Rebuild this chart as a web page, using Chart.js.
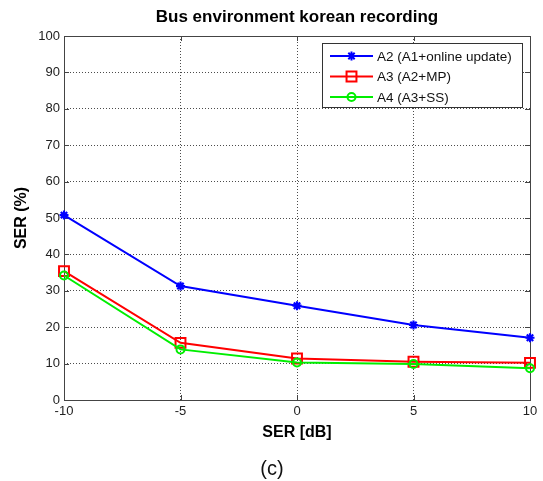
<!DOCTYPE html>
<html>
<head>
<meta charset="utf-8">
<script src="https://cdn.jsdelivr.net/npm/chart.js@4/dist/chart.umd.min.js"></script>
<style>
  body { margin: 0; background: #fff; }
  canvas { display: block; }
</style>
</head>
<body>
<canvas id="chart" width="543" height="481"></canvas>
<script>
const snrDb = [-10, -5, 0, 5, 10];
const serA2 = [50.8, 31.3, 25.9, 20.6, 17.1];
const serA3 = [35.4, 15.7, 11.4, 10.5, 10.2];
const serA4 = [34.2, 13.9, 10.3, 9.9, 8.7];
const seriesLabels = ['A2 (A1+online update)', 'A3 (A2+MP)', 'A4 (A3+SS)'];

const FONT = '"Liberation Sans", Arial, Helvetica, sans-serif';
const toPoints = (ys) => ys.map((y, i) => ({ x: snrDb[i], y }));

// plot box + inward ticks, like matlab's "box on"
const boxPlugin = {
    id: 'box',
    beforeDatasetsDraw(chart) {
        const { ctx, chartArea: a, scales } = chart;
        ctx.save();
        ctx.strokeStyle = '#444';
        ctx.lineWidth = 1;
        ctx.setLineDash([]);
        ctx.strokeRect(Math.round(a.left) + 0.5, Math.round(a.top) + 0.5,
            Math.round(a.right - a.left), Math.round(a.bottom - a.top));
        ctx.beginPath();
        scales.x.ticks.forEach((t) => {
            const px = Math.round(scales.x.getPixelForValue(t.value)) + 0.5;
            ctx.moveTo(px, a.bottom); ctx.lineTo(px, a.bottom - 5);
            ctx.moveTo(px, a.top); ctx.lineTo(px, a.top + 5);
        });
        scales.y.ticks.forEach((t) => {
            const py = Math.round(scales.y.getPixelForValue(t.value)) + 0.5;
            ctx.moveTo(a.left, py); ctx.lineTo(a.left + 5, py);
            ctx.moveTo(a.right, py); ctx.lineTo(a.right - 5, py);
        });
        ctx.stroke();
        ctx.restore();
    }
};

// legend in the top right corner of the axes
const legendPlugin = {
    id: 'boxLegend',
    afterDraw(chart) {
        const { ctx } = chart;
        const x0 = 322, y0 = 43, w = 200, h = 64;
        ctx.save();
        ctx.fillStyle = '#fff';
        ctx.fillRect(x0, y0, w, h);
        ctx.strokeStyle = '#333';
        ctx.lineWidth = 1;
        ctx.strokeRect(x0 + 0.5, y0 + 0.5, w, h);
        ctx.font = '13.5px ' + FONT;
        ctx.textBaseline = 'middle';
        chart.data.datasets.forEach((ds, i) => {
            const y = y0 + 13 + i * 20.5;
            ctx.strokeStyle = ds.borderColor;
            ctx.lineWidth = 2;
            ctx.beginPath();
            ctx.moveTo(x0 + 8, y);
            ctx.lineTo(x0 + 51, y);
            ctx.stroke();
            ctx.fillStyle = ds.pointBackgroundColor || ds.borderColor;
            Chart.helpers.drawPoint(ctx, {
                pointStyle: ds.pointStyle,
                radius: ds.pointRadius,
                borderWidth: ds.pointBorderWidth,
                rotation: 0
            }, x0 + 29.5, y);
            ctx.fillStyle = '#111';
            ctx.fillText(ds.label, x0 + 55, y + 1);
        });
        ctx.restore();
    }
};

const caption = {
    id: 'caption',
    afterDraw(chart) {
        const { ctx } = chart;
        ctx.save();
        ctx.font = '20px ' + FONT;
        ctx.fillStyle = '#111';
        ctx.textAlign = 'center';
        ctx.textBaseline = 'middle';
        ctx.fillText('(c)', 272, 469);
        ctx.restore();
    }
};

new Chart(document.getElementById('chart'), {
    type: 'line',
    data: {
        datasets: [
            {
                label: seriesLabels[0],
                data: toPoints(serA2),
                borderColor: '#0000ff',
                backgroundColor: '#0000ff',
                pointStyle: 'star',
                pointRadius: 4.5,
                pointBorderWidth: 2.2,
                pointBorderColor: '#0000ff',
                pointBackgroundColor: '#0000ff',
                borderWidth: 2,
                clip: false,
                order: 3,
            },
            {
                label: seriesLabels[1],
                data: toPoints(serA3),
                borderColor: '#ff0000',
                backgroundColor: 'rgba(0,0,0,0)',
                pointStyle: 'rect',
                pointRadius: 7,
                pointBorderWidth: 2,
                pointBorderColor: '#ff0000',
                pointBackgroundColor: 'rgba(0,0,0,0)',
                borderWidth: 2,
                clip: false,
                order: 2,
            },
            {
                label: seriesLabels[2],
                data: toPoints(serA4),
                borderColor: '#00ee00',
                backgroundColor: 'rgba(0,0,0,0)',
                pointStyle: 'circle',
                pointRadius: 4,
                pointBorderWidth: 2,
                pointBorderColor: '#00ee00',
                pointBackgroundColor: 'rgba(0,0,0,0)',
                borderWidth: 2,
                clip: false,
                order: 1,
            },
        ],
    },
    options: {
        responsive: false,
        animation: false,
        layout: { padding: { top: 0, left: 0, right: 13, bottom: 0 } },
        plugins: {
            legend: { display: false },
            tooltip: { enabled: false },
            title: {
                display: true,
                text: 'Bus environment korean recording',
                fullSize: false,
                color: '#000',
                font: { family: FONT, size: 17, weight: 'bold' },
                padding: { top: 7, bottom: 8.6 },
            },
        },
        scales: {
            x: {
                type: 'linear',
                min: -10,
                max: 10,
                ticks: {
                    stepSize: 5,
                    padding: 4,
                    color: '#222',
                    font: { family: FONT, size: 13 },
                    maxRotation: 0,
                },
                grid: { color: 'rgba(0,0,0,0.7)', drawTicks: false },
                border: { display: false, dash: [1, 2] },
                title: {
                    display: true,
                    text: 'SER [dB]',
                    color: '#000',
                    font: { family: FONT, size: 16, weight: 'bold' },
                    padding: { top: 0, bottom: 38.4 },
                },
                afterFit(scale) { scale.height = 81; },
            },
            y: {
                min: 0,
                max: 100,
                ticks: {
                    stepSize: 10,
                    padding: 4,
                    color: '#222',
                    font: { family: FONT, size: 13 },
                },
                grid: { color: 'rgba(0,0,0,0.7)', drawTicks: false },
                border: { display: false, dash: [1, 2] },
                title: {
                    display: true,
                    text: 'SER (%)',
                    color: '#000',
                    font: { family: FONT, size: 16, weight: 'bold' },
                    padding: { top: 12.4, bottom: 0 },
                },
                afterFit(scale) { scale.width = 64; },
            },
        },
    },
    plugins: [boxPlugin, legendPlugin, caption],
});
</script>
</body>
</html>
